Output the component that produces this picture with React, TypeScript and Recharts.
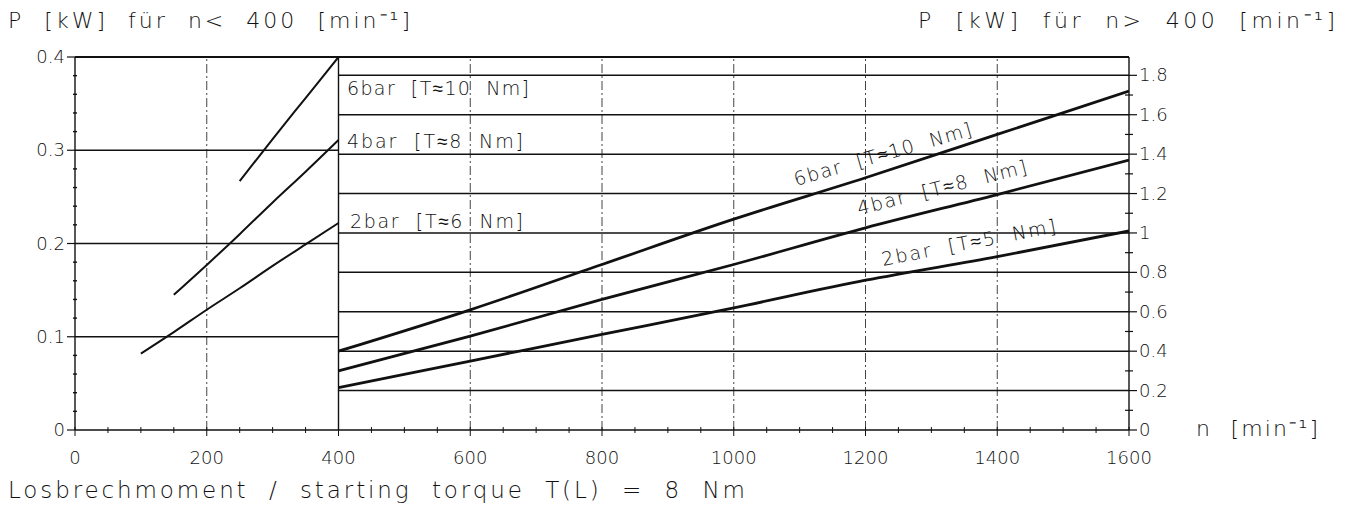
import { ComposedChart, Line, XAxis, YAxis, ReferenceLine } from 'recharts';

// speed ticks [min^-1]
const speedMinorTicks = Array.from({ length: 33 }, (_, i) => i * 50);
const lowGridSpeeds = [200];
const highGridSpeeds = [600, 800, 1000, 1200, 1400];

// power ticks [kW]
const lowPowerTicks = Array.from({ length: 21 }, (_, i) => Math.round(i * 2) / 100);
const lowPowerGrid = [0.1, 0.2, 0.3];
const highPowerTicks = Array.from({ length: 19 }, (_, i) => Math.round(i) / 10);
const highPowerGrid = [0.2, 0.4, 0.6, 0.8, 1.0, 1.2, 1.4, 1.6, 1.8];

// n < 400 (left axis)
const low6Speed = [250, 300, 350, 400];
const low6Power = [0.267, 0.312, 0.356, 0.4];
const low4Speed = [150, 200, 250, 300, 350, 400];
const low4Power = [0.145, 0.177, 0.21, 0.244, 0.277, 0.311];
const low2Speed = [100, 150, 200, 250, 300, 350, 400];
const low2Power = [0.082, 0.105, 0.129, 0.152, 0.176, 0.199, 0.222];

// n > 400 (right axis)
const highSpeed = [400, 600, 800, 1000, 1200, 1400, 1600];
const high6Power = [0.4, 0.61, 0.84, 1.07, 1.28, 1.5, 1.72];
const high4Power = [0.3, 0.476, 0.663, 0.84, 1.026, 1.195, 1.37];
const high2Power = [0.215, 0.35, 0.485, 0.62, 0.76, 0.88, 1.01];

const zip = (n: number[], p: number[]) => n.map((v, i) => ({ n: v, p: p[i] }));

const FONT = "'DejaVu Sans', sans-serif";
const WEIGHT = 200;
const INK = '#111';

function BottomTick(props: any) {
  const { x, y, payload } = props;
  const v = payload.value;
  const major = v % 200 === 0;
  return (
    <g>
      <line x1={x} x2={x} y1={y - 3} y2={y + (major ? 6 : 3)} stroke={INK} strokeWidth={1} />
      {major && (
        <text x={x} y={y + 34} textAnchor="middle" fontSize={18} fontFamily={FONT} fontWeight={WEIGHT} fill={INK}>
          {v}
        </text>
      )}
    </g>
  );
}

function LeftTick(props: any) {
  const { x, y, payload } = props;
  const v = payload.value;
  const major = Math.abs(v * 10 - Math.round(v * 10)) < 1e-6;
  return (
    <g>
      {major ? (
        <>
          <line x1={x - 8} x2={x} y1={y} y2={y} stroke={INK} strokeWidth={1.2} />
          <text x={x - 10} y={y + 6} textAnchor="end" fontSize={18} fontFamily={FONT} fontWeight={WEIGHT} fill={INK}>
            {String(v)}
          </text>
        </>
      ) : (
        <line x1={x - 2} x2={x + 2} y1={y} y2={y} stroke={INK} strokeWidth={1.4} />
      )}
    </g>
  );
}

function RightTick(props: any) {
  const { x, y, payload } = props;
  const v = payload.value;
  const major = Math.round(v * 10) % 2 === 0;
  return (
    <g>
      {major ? (
        <>
          <line x1={x} x2={x + 8} y1={y} y2={y} stroke={INK} strokeWidth={1.2} />
          <text x={x + 10} y={y + 6} textAnchor="start" fontSize={18} fontFamily={FONT} fontWeight={WEIGHT} fill={INK}>
            {String(Math.round(v * 10) / 10)}
          </text>
        </>
      ) : (
        <line x1={x - 4} x2={x + 4} y1={y} y2={y} stroke={INK} strokeWidth={1.2} />
      )}
    </g>
  );
}

const txt = { fontFamily: FONT, fontWeight: WEIGHT, fill: INK, style: { whiteSpace: 'pre' as const } };

export default function App() {
  return (
    <div style={{ position: 'absolute', left: 0, top: 0, width: 1345, height: 510, background: '#fff' }}>
      <ComposedChart width={1345} height={510} margin={{ top: 57, right: 0, bottom: 0, left: 0 }}>
        <XAxis
          xAxisId="n"
          type="number"
          dataKey="n"
          domain={[0, 1600]}
          ticks={speedMinorTicks}
          interval={0}
          height={80}
          tickSize={0}
          tickMargin={0}
          tickLine={false}
          tick={<BottomTick />}
          axisLine={{ stroke: INK, strokeWidth: 1.6 }}
          allowDataOverflow
        />
        <YAxis
          yAxisId="left"
          type="number"
          domain={[0, 0.4]}
          ticks={lowPowerTicks}
          interval={0}
          width={75}
          tickSize={0}
          tickMargin={0}
          tickLine={false}
          tick={<LeftTick />}
          axisLine={{ stroke: INK, strokeWidth: 1.4 }}
          allowDataOverflow
        />
        <YAxis
          yAxisId="right"
          orientation="right"
          type="number"
          domain={[0, 1.893]}
          ticks={highPowerTicks}
          interval={0}
          width={216}
          tickSize={0}
          tickMargin={0}
          tickLine={false}
          tick={<RightTick />}
          axisLine={{ stroke: INK, strokeWidth: 1.4 }}
          allowDataOverflow
        />

        {lowGridSpeeds.concat(highGridSpeeds).map((n) => (
          <ReferenceLine key={`v${n}`} xAxisId="n" yAxisId="left" x={n} stroke="#444" strokeWidth={1} strokeDasharray="9 3 2 3" />
        ))}
        <ReferenceLine xAxisId="n" yAxisId="left" x={400} stroke={INK} strokeWidth={1.4} />
        <ReferenceLine xAxisId="n" yAxisId="left" y={0.4} stroke={INK} strokeWidth={1.8} />
        {lowPowerGrid.map((p) => (
          <ReferenceLine
            key={`l${p}`}
            xAxisId="n"
            yAxisId="left"
            segment={[{ x: 0, y: p }, { x: 400, y: p }]}
            stroke={INK}
            strokeWidth={1.5}
          />
        ))}
        {highPowerGrid.map((p) => (
          <ReferenceLine
            key={`r${p}`}
            xAxisId="n"
            yAxisId="right"
            segment={[{ x: 400, y: p }, { x: 1600, y: p }]}
            stroke={INK}
            strokeWidth={1.5}
          />
        ))}

        <Line xAxisId="n" yAxisId="left" data={zip(low6Speed, low6Power)} dataKey="p" type="monotone" stroke={INK} strokeWidth={2} dot={false} isAnimationActive={false} />
        <Line xAxisId="n" yAxisId="left" data={zip(low4Speed, low4Power)} dataKey="p" type="monotone" stroke={INK} strokeWidth={2} dot={false} isAnimationActive={false} />
        <Line xAxisId="n" yAxisId="left" data={zip(low2Speed, low2Power)} dataKey="p" type="monotone" stroke={INK} strokeWidth={2} dot={false} isAnimationActive={false} />
        <Line xAxisId="n" yAxisId="right" data={zip(highSpeed, high6Power)} dataKey="p" type="monotone" stroke={INK} strokeWidth={2.8} dot={false} isAnimationActive={false} />
        <Line xAxisId="n" yAxisId="right" data={zip(highSpeed, high4Power)} dataKey="p" type="monotone" stroke={INK} strokeWidth={2.8} dot={false} isAnimationActive={false} />
        <Line xAxisId="n" yAxisId="right" data={zip(highSpeed, high2Power)} dataKey="p" type="monotone" stroke={INK} strokeWidth={2.8} dot={false} isAnimationActive={false} />
      </ComposedChart>

      <svg width={1345} height={510} style={{ position: 'absolute', left: 0, top: 0, pointerEvents: 'none' }}>
        <text x={8} y={28} fontSize={22} textLength={402} lengthAdjust="spacing" {...txt}>
          {'P  [kW]  für  n<  400  [min⁻¹]'}
        </text>
        <text x={918} y={28} fontSize={22} textLength={417} lengthAdjust="spacing" {...txt}>
          {'P  [kW]  für  n>  400  [min⁻¹]'}
        </text>
        <text x={1196} y={436} fontSize={22} textLength={122} lengthAdjust="spacing" {...txt}>
          {'n  [min⁻¹]'}
        </text>
        <text x={8} y={498} fontSize={23} textLength={737} lengthAdjust="spacing" {...txt}>
          {'Losbrechmoment  /  starting  torque  T(L)  =  8  Nm'}
        </text>

        <text x={347} y={95} fontSize={19} textLength={182} lengthAdjust="spacing" {...txt}>
          {'6bar  [T≈10  Nm]'}
        </text>
        <text x={347} y={148} fontSize={19} textLength={176} lengthAdjust="spacing" {...txt}>
          {'4bar  [T≈8  Nm]'}
        </text>
        <text x={350} y={228} fontSize={19} textLength={173} lengthAdjust="spacing" {...txt}>
          {'2bar  [T≈6  Nm]'}
        </text>

        <text x={0} y={0} fontSize={19} textLength={184} lengthAdjust="spacing" transform="translate(796 186) rotate(-16)" {...txt}>
          {'6bar  [T≈10  Nm]'}
        </text>
        <text x={0} y={0} fontSize={19} textLength={174} lengthAdjust="spacing" transform="translate(859 215) rotate(-14)" {...txt}>
          {'4bar  [T≈8  Nm]'}
        </text>
        <text x={0} y={0} fontSize={19} textLength={177} lengthAdjust="spacing" transform="translate(883 266) rotate(-11)" {...txt}>
          {'2bar  [T≈5  Nm]'}
        </text>
      </svg>
    </div>
  );
}
